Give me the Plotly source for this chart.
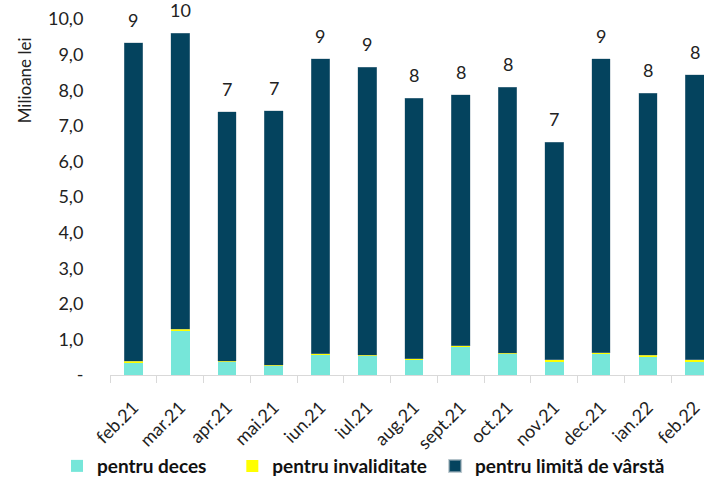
import plotly.graph_objects as go

luni = ["feb.21", "mar.21", "apr.21", "mai.21", "iun.21", "iul.21", "aug.21",
        "sept.21", "oct.21", "nov.21", "dec.21", "ian.22", "feb.22"]
deces = [0.35, 1.24, 0.38, 0.26, 0.58, 0.55, 0.44, 0.80, 0.60, 0.36, 0.61, 0.53, 0.36]
invaliditate = [0.04, 0.04, 0.01, 0.01, 0.02, 0.01, 0.02, 0.02, 0.01, 0.07, 0.01, 0.02, 0.07]
limita_varsta = [8.94, 8.32, 7.00, 7.15, 8.28, 8.09, 7.32, 7.05, 7.48, 6.11, 8.26, 7.37, 8.00]
y_ticks = [0, 1, 2, 3, 4, 5, 6, 7, 8, 9, 10]
y_ticktext = ["-", "1,0", "2,0", "3,0", "4,0", "5,0", "6,0", "7,0", "8,0", "9,0", "10,0"]

FONT = "Lato, 'Open Sans', sans-serif"
totals = [d + i + l for d, i, l in zip(deces, invaliditate, limita_varsta)]

fig = go.Figure()
fig.add_trace(go.Bar(x=luni, y=deces, name="pentru deces",
                     marker=dict(color="#76E6D9", line=dict(width=0)), legend="legend"))
fig.add_trace(go.Bar(x=luni, y=invaliditate, name="pentru invaliditate",
                     marker=dict(color="#FFFF00", line=dict(width=0)), legend="legend2"))
fig.add_trace(go.Bar(x=luni, y=limita_varsta, name="pentru limită de vârstă",
                     marker=dict(color="#04435E", line=dict(color="rgba(150,170,180,0.6)", width=0.6)),
                     legend="legend3"))

# total labels above each bar
for m, t in zip(luni, totals):
    fig.add_annotation(x=m, y=t, text=str(round(t)), showarrow=False,
                       yshift=23, font=dict(size=18, color="#222", family=FONT))

fig.add_annotation(text="Milioane lei", xref="paper", yref="paper", x=-0.144, y=0.829,
                   xanchor="center", yanchor="middle",
                   textangle=-90, showarrow=False, font=dict(size=17, color="#222", family=FONT))

# legends placed in container coords so they don't push the margins
leg = dict(orientation="h", xref="container", yref="container", yanchor="middle", y=0.023,
           xanchor="left", bgcolor="rgba(0,0,0,0)",
           font=dict(size=19, color="#111", family=FONT, weight=700), itemsizing="constant")

fig.update_layout(
    barmode="stack",
    bargap=0.6,
    width=704, height=477,
    margin=dict(l=109.5, r=0, t=19, b=102, autoexpand=False),
    plot_bgcolor="white", paper_bgcolor="white",
    font=dict(family=FONT, size=16, color="#222"),
    xaxis=dict(
        range=[-0.5, 12.2],
        automargin=False,
        tickangle=-45,
        tickfont=dict(size=18),
        ticklabelstandoff=14,
        showline=True, linecolor="#D9D9D9", linewidth=1,
        ticks="outside", tickson="boundaries", ticklen=7, tickcolor="#D9D9D9",
        showgrid=False,
    ),
    yaxis=dict(
        range=[0, 10],
        automargin=False,
        tickvals=y_ticks, ticktext=y_ticktext,
        tickfont=dict(size=18),
        ticks="outside", ticklen=22, tickcolor="rgba(0,0,0,0)",
        showgrid=False, zeroline=False, showline=False,
    ),
    legend=dict(leg, x=0.081),
    legend2=dict(leg, x=0.330),
    legend3=dict(leg, x=0.618),
    showlegend=True,
)

# drop the browser's default 8px body margin so the figure sits at the page corner
fig.write_html("out.html", config={"displayModeBar": False},
               post_script="document.body.style.margin = '0';")
